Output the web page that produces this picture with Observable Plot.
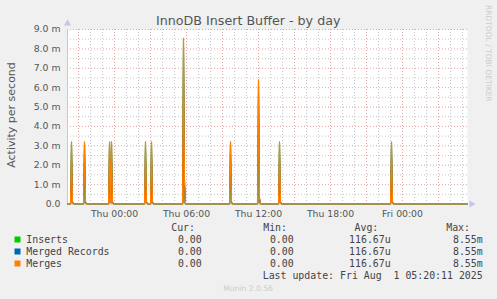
<!DOCTYPE html>
<html>
<head>
<meta charset="utf-8">
<script src="https://cdn.jsdelivr.net/npm/d3@7"></script>
<script src="https://cdn.jsdelivr.net/npm/@observablehq/plot@0.6"></script>
<style>
  html, body { margin: 0; padding: 0; background: #f0f0f0; }
  #wrap { position: relative; width: 497px; height: 299px; overflow: hidden; background: #f0f0f0; }
  #wrap > svg { position: absolute; left: 0; top: 0; }
  #overlay { pointer-events: none; }
</style>
</head>
<body>
<div id="wrap"></div>
<script>
// ---- data ----
const title = "InnoDB Insert Buffer - by day";
const yLabel = "Activity per second";
const rangeStart = "2025-07-30T20:05:00Z";
const rangeEnd = "2025-08-01T05:25:00Z";
const sampleMinutes = 5;
// spikes (time of peak, peak value in milli/s, following sample in milli/s)
const spikeTimes = ["2025-07-30T20:25Z", "2025-07-30T21:30Z", "2025-07-30T23:35Z", "2025-07-30T23:45Z",
  "2025-07-31T02:35Z", "2025-07-31T03:05Z", "2025-07-31T05:45Z", "2025-07-31T09:40Z",
  "2025-07-31T12:00Z", "2025-07-31T13:45Z", "2025-07-31T23:05Z"];
const spikePeaks = [3.2, 3.2, 3.2, 3.2, 3.2, 3.2, 8.55, 3.2, 6.4, 3.2, 3.2];
const spikeTails = [0.12, 0.12, 0.12, 0.12, 0.12, 0.12, 1.2, 0.12, 0.3, 0.12, 0.12];
const seriesNames = ["Inserts", "Merged Records", "Merges"];
const seriesColors = ["#00cc00", "#0066b3", "#ff8000"];
const yTicks = [0, 1, 2, 3, 4, 5, 6, 7, 8, 9];
const xTicks = ["2025-07-31T00:00Z", "2025-07-31T06:00Z", "2025-07-31T12:00Z", "2025-07-31T18:00Z", "2025-08-01T00:00Z"];
const legendHeaders = ["Cur:", "Min:", "Avg:", "Max:"];
const legendCur = ["0.00", "0.00", "0.00"];
const legendMin = ["0.00", "0.00", "0.00"];
const legendAvg = ["116.67u", "116.67u", "116.67u"];
const legendMax = ["8.55m", "8.55m", "8.55m"];
const lastUpdate = "Last update: Fri Aug  1 05:20:11 2025";
const footer = "Munin 2.0.56";
const sideText = "RRDTOOL / TOBI OETIKER";

// ---- build sample table ----
const t0 = new Date(rangeStart), t1 = new Date(rangeEnd);
const step = sampleMinutes * 60000;
const n = Math.round((t1 - t0) / step);
const vals = new Array(n + 1).fill(0);
spikeTimes.forEach((s, i) => {
  const k = Math.round((new Date(s) - t0) / step);
  vals[k] = Math.max(vals[k], spikePeaks[i] / 1000);
  if (k + 1 <= n) vals[k + 1] = Math.max(vals[k + 1], spikeTails[i] / 1000);
});
const samples = vals.map((v, k) => ({t: new Date(+t0 + k * step), v}));

// ---- grid positions ----
const hours = d3.utcHour.range(t0, t1);
const majorX = hours.filter(d => d.getUTCHours() % 3 === 0);
const minorX = hours.filter(d => d.getUTCHours() % 3 !== 0);
const majorY = yTicks.filter(d => d > 0).map(d => d / 1000);
const minorY = yTicks.slice(0, -1).map(d => (d + 0.5) / 1000);
const days = ["Sun", "Mon", "Tue", "Wed", "Thu", "Fri", "Sat"];
const fmtX = d => days[d.getUTCDay()] + " " + String(d.getUTCHours()).padStart(2, "0") + ":" + String(d.getUTCMinutes()).padStart(2, "0");

const dash = "1,2";
const chart = Plot.plot({
  width: 497, height: 299,
  marginTop: 29, marginBottom: 95.5, marginLeft: 67, marginRight: 30,
  style: {background: "transparent", fontFamily: "DejaVu Sans", fontSize: "9.3px", color: "#555", overflow: "visible"},
  x: {type: "utc", domain: [t0, t1], axis: null},
  y: {domain: [0, 0.009], axis: null},
  marks: [
    Plot.frame({fill: "white", stroke: null}),
    Plot.ruleY(minorY, {stroke: "#c8c8c8", strokeDasharray: dash}),
    Plot.ruleX(minorX, {stroke: "#c8c8c8", strokeDasharray: dash}),
    Plot.ruleY(majorY, {stroke: "#e6a3a3", strokeDasharray: dash}),
    Plot.ruleX(majorX, {stroke: "#e6a3a3", strokeDasharray: dash}),
    Plot.axisY(yTicks.map(d => d / 1000), {label: null, tickSize: 0, tickPadding: 7, fill: "#555",
      tickFormat: d => d === 0 ? "0.0" : (d * 1000).toFixed(1) + " m"}),
    Plot.axisX(xTicks.map(s => new Date(s)), {label: null, tickSize: 0, tickPadding: 6, fill: "#555", tickFormat: fmtX}),
    Plot.ruleX([t0], {stroke: "#c4c4f0", y1: 0, y2: 0.009}),
    Plot.ruleY([0], {stroke: "#c4c4f0"}),
    Plot.areaY(samples, {x: "t", y: "v", fill: "#8f7a2e", fillOpacity: 0.8, dx: 0.8}),
    Plot.line(samples, {x: "t", y: "v", stroke: seriesColors[0], strokeWidth: 1}),
    Plot.line(samples, {x: "t", y: "v", stroke: seriesColors[1], strokeWidth: 1}),
    Plot.line(samples, {x: "t", y: "v", stroke: seriesColors[2], strokeWidth: 1.2}),
    Plot.dot([0], {x: () => t0, y: () => 0.009, dy: -6, symbol: "triangle", r: 2.6, fill: "#c4c4f0", stroke: null}),
    Plot.dot([0], {x: () => t1, y: () => 0, dx: 4, symbol: "triangle", r: 2.6, rotate: 90, fill: "#c4c4f0", stroke: null})
  ]
});
document.getElementById("wrap").appendChild(chart);

// ---- texts: title, labels and legend ----
const NS = "http://www.w3.org/2000/svg";
const ov = document.createElementNS(NS, "svg");
ov.setAttribute("id", "overlay");
ov.setAttribute("width", 497);
ov.setAttribute("height", 299);
document.getElementById("wrap").appendChild(ov);
function txt(s, x, y, opts = {}) {
  const e = document.createElementNS(NS, "text");
  e.textContent = s;
  e.setAttribute("x", x);
  e.setAttribute("y", y);
  e.setAttribute("font-family", opts.font || "DejaVu Sans");
  e.setAttribute("font-size", opts.size || 10);
  e.setAttribute("fill", opts.fill || "#444");
  e.setAttribute("text-anchor", opts.anchor || "start");
  e.style.whiteSpace = "pre";
  if (opts.transform) e.setAttribute("transform", opts.transform);
  ov.appendChild(e);
  return e;
}
txt(title, 248.2, 25, {size: 12.7, fill: "#555", anchor: "middle"});
txt(yLabel, 0, 0, {size: 11, fill: "#555", anchor: "middle", transform: "translate(15,115) rotate(-90)"});
txt(sideText, 0, 0, {size: 7.5, fill: "#cccccc", transform: "translate(485.5,5) rotate(90)"});
const mono = "DejaVu Sans Mono", ms = 9.9, lc = "#444";
const headerX = [195, 287, 378.3, 470];
legendHeaders.forEach((h, i) => txt(h, headerX[i], 231, {font: mono, size: ms, fill: lc, anchor: "end"}));
seriesNames.forEach((name, i) => {
  const y = 243 + i * 12;
  const r = document.createElementNS(NS, "rect");
  r.setAttribute("x", 14.5); r.setAttribute("y", y - 6.5);
  r.setAttribute("width", 6); r.setAttribute("height", 6);
  r.setAttribute("fill", seriesColors[i]);
  ov.appendChild(r);
  txt(name, 26.3, y, {font: mono, size: ms, fill: lc});
  txt(legendCur[i], 201.7, y, {font: mono, size: ms, fill: lc, anchor: "end"});
  txt(legendMin[i], 293.7, y, {font: mono, size: ms, fill: lc, anchor: "end"});
  txt(legendAvg[i], 390.7, y, {font: mono, size: ms, fill: lc, anchor: "end"});
  txt(legendMax[i], 482.7, y, {font: mono, size: ms, fill: lc, anchor: "end"});
});
txt(lastUpdate, 482.7, 279, {font: mono, size: ms, fill: lc, anchor: "end"});
txt(footer, 248, 291, {size: 7.6, fill: "#cccccc", anchor: "middle"});
</script>
</body>
</html>
